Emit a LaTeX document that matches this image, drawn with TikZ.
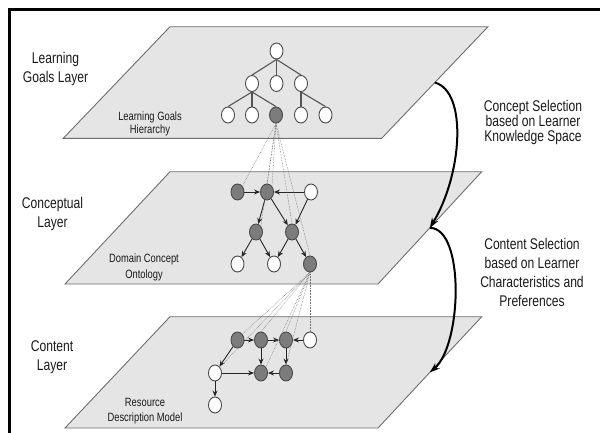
\documentclass[tikz,border=0pt]{standalone}
\usepackage{fontspec}
\setmainfont{Liberation Sans}[FakeStretch=0.78]
\usetikzlibrary{shapes.geometric,arrows.meta,calc}

\definecolor{layerfill}{HTML}{E5E5E5}
\definecolor{layeredge}{HTML}{6E6E6E}
\definecolor{nodefill}{HTML}{7C7C7C}
\definecolor{nodeedge}{HTML}{4A4A4A}
\definecolor{treeline}{HTML}{555555}
\definecolor{textcol}{HTML}{1A1A1A}

\begin{document}
\begin{tikzpicture}[x=1pt,y=-1pt,
  layer/.style={fill=layerfill,draw=layeredge,line width=0.9pt},
  gnode/.style={ellipse,minimum width=13pt,minimum height=16pt,inner sep=0pt,draw=nodeedge,line width=0.9pt},
  dark/.style={gnode,fill=nodefill},
  light/.style={gnode,fill=white},
  tree/.style={draw=treeline,line width=1.1pt},
  link/.style={draw=black!85,line width=0.9pt,-{Stealth[length=6pt,width=5pt]}},
  trace/.style={draw=black!55,line width=0.55pt,densely dotted},
  flow/.style={line width=2pt,-{Stealth[length=10pt,width=7pt]}},
  biglabel/.style={font=\fontsize{15.5}{19}\selectfont,align=center,text=textcol,inner sep=0pt},
  smalllabel/.style={font=\fontsize{12}{14.5}\selectfont,align=center,text=textcol,inner sep=0pt}]

\useasboundingbox (0,0) rectangle (600,432);
\clip (0,0) rectangle (600,432);

% outer frame
\draw[line width=3pt] (9.5,460) -- (9.5,9.5) -- (620,9.5);

% the three layer planes
\coordinate (l1nw) at (170,26.7);  \coordinate (l1ne) at (488,26.7);
\coordinate (l1se) at (381.7,138.3); \coordinate (l1sw) at (63.3,138.3);
\coordinate (l2nw) at (170,171.7); \coordinate (l2ne) at (481.7,171.7);
\coordinate (l2se) at (378,284);   \coordinate (l2sw) at (65,284);
\coordinate (l3nw) at (170,316.7); \coordinate (l3ne) at (481.7,316.7);
\coordinate (l3se) at (378,428);   \coordinate (l3sw) at (65,428);
\draw[layer] (l1nw) -- (l1ne) -- (l1se) -- (l1sw) -- cycle;
\draw[layer] (l2nw) -- (l2ne) -- (l2se) -- (l2sw) -- cycle;
\draw[layer] (l3nw) -- (l3ne) -- (l3se) -- (l3sw) -- cycle;

% layer titles
\node[biglabel] (t1) at (55.5,69) {Learning\\Goals Layer};
\node[biglabel] (t2) at (52.5,214) {Conceptual\\Layer};
\node[biglabel] (t3) at (52,357) {Content\\Layer};

% model names inside the planes
\node[smalllabel,font=\fontsize{12}{13}\selectfont] (m1) at (150,123.5) {Learning Goals\\Hierarchy};
\node[smalllabel,font=\fontsize{12}{16}\selectfont] (m2) at (144,267) {Domain Concept\\Ontology};
\node[smalllabel,font=\fontsize{12}{15}\selectfont] (m3) at (145,411) {Resource\\Description Model};

% selection steps
\node[biglabel,font=\fontsize{15.5}{15}\selectfont] (s1) at (533,122) {Concept Selection\\based on Learner\\Knowledge Space};
\node[biglabel] (s2) at (532,272.5) {Content Selection\\based on Learner\\Characteristics and\\Preferences};

% learning goals hierarchy
\node[light] (g0) at (276.5,51) {};
\node[light] (g1) at (252,83.5) {};
\node[light] (g2) at (276.5,83.5) {};
\node[light] (g3) at (301,83.5) {};
\node[light] (g4) at (228,115) {};
\node[light] (g5) at (252,115) {};
\node[dark]  (g6) at (276,115) {};
\node[light] (g7) at (301,115) {};
\node[light] (g8) at (325.5,115) {};
\draw[tree] (g0.south) -- (g1.north);
\draw[tree] (g0.south) -- (g2.north);
\draw[tree] (g0.south) -- (g3.north);
\draw[tree] (g1.south) -- (g4.north);
\draw[tree] (g1.south) -- (g5.north);
\draw[tree] (g1.south) -- (g6.north);
\draw[tree] (g3.south) -- (g7.north);
\draw[tree] (g3.south) -- (g8.north);

% domain concept ontology
\node[dark]  (cA) at (237.5,192) {};
\node[dark]  (cB) at (267,192) {};
\node[light] (cC) at (311,192) {};
\node[dark]  (cD) at (256,232) {};
\node[dark]  (cE) at (292,232) {};
\node[light] (cF) at (237.5,264) {};
\node[light] (cG) at (274,264) {};
\node[dark]  (cH) at (310,264) {};
\draw[link] (cA) -- (cB);
\draw[link] (cC) -- (cB);
\draw[link] (cB) -- (cD);
\draw[link] (cB) -- (cE);
\draw[link] (cC) -- (cE);
\draw[link] (cD) -- (cF);
\draw[link] (cD) -- (cG);
\draw[link] (cE) -- (cG);
\draw[link] (cE) -- (cH);

% resource description model
\node[dark]  (rP) at (237.5,340) {};
\node[dark]  (rQ) at (261,340) {};
\node[dark]  (rR) at (286,340) {};
\node[light] (rS) at (310,340) {};
\node[light] (rT) at (215,373) {};
\node[dark]  (rU) at (261,373) {};
\node[dark]  (rV) at (286,373) {};
\node[light] (rW) at (215,405) {};
\draw[link] (rP) -- (rQ);
\draw[link] (rQ) -- (rR);
\draw[link] (rS) -- (rR);
\draw[link] (rP) -- (rT);
\draw[link] (rQ) -- (rU);
\draw[link] (rR) -- (rV);
\draw[link] (rV) -- (rU);
\draw[link] (rT) -- (rU);
\draw[link] (rT) -- (rW);

% traces from a goal to its concepts
\draw[trace] (g6.south) -- (cA.north east);
\draw[trace] (g6.south) -- (cB.north);
\draw[trace] (g6.south) -- (cB.north east);
\draw[trace] (g6.south) -- (cD.north east);
\draw[trace] (g6.south) -- (cE.north);
\draw[trace] (g6.south) -- (cH.north);

% traces from a concept to its resources
\draw[trace] (cH.south) -- (rT.north east);
\draw[trace] (cH.south) -- (rP.north east);
\draw[trace] (cH.south) -- (rQ.north);
\draw[trace] (cH.south) -- (rU.north east);
\draw[trace] (cH.south) -- (rR.north);
\draw[trace] (cH.south) -- (rV.north);
\draw[trace] (cH.south) -- (rS.north);

% selection arrows between the planes
\coordinate (e1) at ($(l1ne)!0.5!(l1se)$);
\coordinate (e2) at ($(l2ne)!0.5!(l2se)$);
\coordinate (e3) at ($(l3ne)!0.5!(l3se)$);
\draw[flow] (e1) .. controls (468,92) and (462,175) .. (e2);
\draw[flow] (e2) .. controls (465,228) and (462,345) .. (e3);
\end{tikzpicture}
\end{document}
